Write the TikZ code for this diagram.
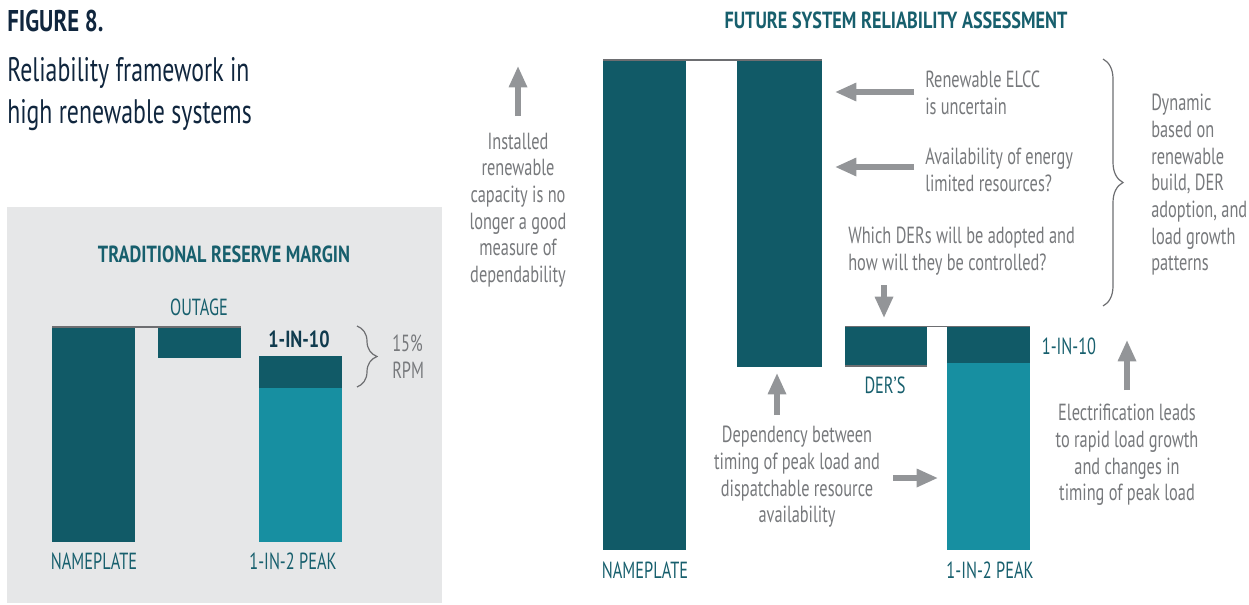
\documentclass[tikz,border=0pt]{standalone}
\usepackage{fontspec}
\setmainfont{PT Sans}[FakeStretch=0.7]
\newfontfamily\figfont{PT Sans}[FakeStretch=0.76]
\newfontfamily\headfont{PT Sans}[FakeStretch=0.78]
\usetikzlibrary{arrows.meta, decorations.pathreplacing}

\definecolor{barteal}{HTML}{115A67}
\definecolor{peakteal}{HTML}{178FA1}
\definecolor{labelteal}{HTML}{175F6D}
\definecolor{titlenavy}{HTML}{10263E}
\definecolor{notegrey}{HTML}{77797C}
\definecolor{arrowgrey}{HTML}{939598}
\definecolor{linegrey}{HTML}{6D6E71}
\definecolor{panelgrey}{HTML}{E6E7E8}

\tikzset{
  note/.style={text=notegrey, font=\fontsize{17.5}{20}\selectfont, align=center, inner sep=0pt},
  tag/.style={text=labelteal, font=\fontsize{17.5}{20}\selectfont, inner sep=0pt},
  heading/.style={text=labelteal, font=\headfont\bfseries\fontsize{17.5}{20}\selectfont, inner sep=0pt},
  pointer/.style={draw=arrowgrey, line width=3.8pt, -{Triangle[width=13pt,length=16pt]}},
  topline/.style={draw=linegrey, line width=1.4pt},
  curly/.style={draw=linegrey, line width=0.9pt, decorate, decoration={brace, amplitude=15pt}}
}

\begin{document}
\begin{tikzpicture}[x=0.75pt, y=-0.75pt]
        \useasboundingbox (0,0) rectangle (1249,604);
        % Figure title
        \node [anchor=west, inner sep=0pt, text=titlenavy, font=\figfont\bfseries\fontsize{22.5}{26}\selectfont] (fig) at (7,21) {FIGURE 8.};
        \node [anchor=west, inner sep=0pt, align=left, text=titlenavy, font=\fontsize{25.5}{31}\selectfont] (subtitle) at (7,94) {Reliability framework in\\high renewable systems};
        % Traditional reserve margin
        \fill [panelgrey] (7,207) rectangle (442,603);
        \node [heading] (tradtitle) at (224,254) {TRADITIONAL RESERVE MARGIN};
        \fill [barteal] (52,327) rectangle (135,542);
        \fill [barteal] (158,327) rectangle (241,358);
        \fill [barteal] (259,356) rectangle (342,388);
        \fill [peakteal] (259,388) rectangle (342,542);
        \draw [topline] (52,327) -- (241,327);
        \node [tag] (outage) at (199,307) {OUTAGE};
        \node [heading, text=titlenavy!60!barteal] (tenl) at (299,339) {1-IN-10};
        \node [tag] (namel) at (94,561) {NAMEPLATE};
        \node [tag] (peakl) at (293,561) {1-IN-2 PEAK};
        \draw [curly] (357,326) -- (357,387);
        \node [note, align=left, anchor=west] (rpm) at (392,357) {15\%\\RPM};
        % Future system reliability assessment
        \node [heading] (futtitle) at (896,20) {FUTURE SYSTEM RELIABILITY ASSESSMENT};
        \fill [barteal] (603,60) rectangle (686,550);
        \fill [barteal] (737,60) rectangle (822,367);
        \fill [barteal] (845,327) rectangle (927,366);
        \fill [barteal] (947,327) rectangle (1030,363);
        \fill [peakteal] (947,363) rectangle (1030,550);
        \draw [topline] (603,60) -- (822,60);
        \draw [topline] (845,326.5) -- (1030,326.5);
        \draw [topline] (845,366) -- (927,366);
        \node [tag] (namer) at (645,570) {NAMEPLATE};
        \node [tag] (peakr) at (990,570) {1-IN-2 PEAK};
        \node [tag] (ders) at (885,385) {DER'S};
        \node [tag] (tenr) at (1069,346) {1-IN-10};
        % Notes
        \node [note] (installed) at (518,210) {Installed\\renewable\\capacity is no\\longer a good\\measure of\\dependability};
        \node [note, align=left, anchor=west] (elcc) at (925,93) {Renewable ELCC\\is uncertain};
        \node [note, align=left, anchor=west] (energy) at (925,170) {Availability of energy\\limited resources?};
        \node [note, align=left, anchor=west] (which) at (848,251) {Which DERs will be adopted and\\how will they be controlled?};
        \node [note, align=left, anchor=west] (dynamic) at (1151,185) {Dynamic\\based on\\renewable\\build, DER\\adoption, and\\load growth\\patterns};
        \node [note] (depend) at (797,477) {Dependency between\\timing of peak load and\\dispatchable resource\\availability};
        \node [note] (electric) at (1127,455) {Electrification leads\\to rapid load growth\\and changes in\\timing of peak load};
        \draw [curly] (1103,59) -- (1103,306);
        % Arrows
        \coordinate (a1s) at (518,116); \coordinate (a1e) at (518,66);
        \coordinate (a2s) at (914,92);  \coordinate (a2e) at (835,92);
        \coordinate (a3s) at (914,167); \coordinate (a3e) at (835,167);
        \coordinate (a4s) at (884,285); \coordinate (a4e) at (884,318);
        \coordinate (a5s) at (777,415); \coordinate (a5e) at (777,373);
        \coordinate (a6s) at (893,478); \coordinate (a6e) at (938,478);
        \coordinate (a7s) at (1127,390); \coordinate (a7e) at (1127,340);
        \foreach \a in {a1,a2,a3,a4,a5,a6,a7}
            \draw [pointer] (\a s) -- (\a e);
    \end{tikzpicture}
\end{document}
